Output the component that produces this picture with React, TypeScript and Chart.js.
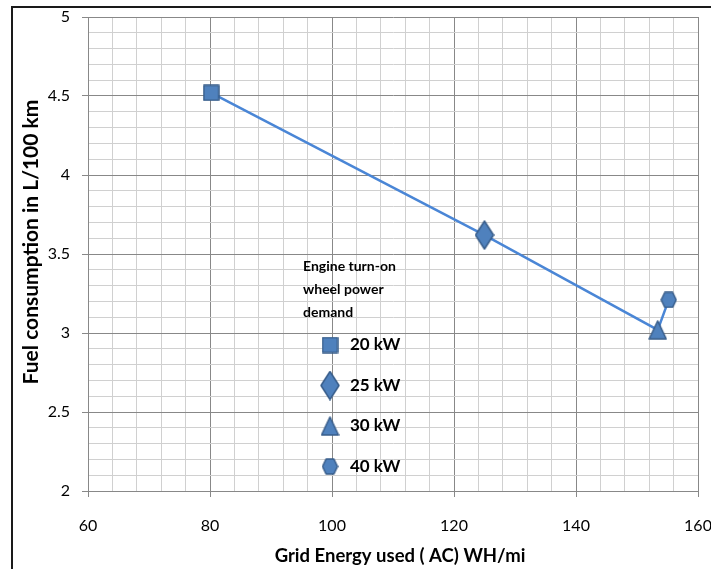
import React, { useEffect, useRef } from 'react';
import { Chart, registerables } from 'chart.js';

Chart.register(...registerables);

// ---- data ----
const energyUsed = [80.2, 125, 153.4, 155.2]; // Grid energy used (AC) Wh/mi
const fuelUse = [4.52, 3.62, 3.02, 3.21]; // L/100 km
const powerDemand = ['20 kW', '25 kW', '30 kW', '40 kW'];
const markerKinds = ['square', 'diamond', 'triangle', 'hexagon'];
const legendTitle = ['Engine turn-on', 'wheel power', 'demand'];
const xTitle = 'Grid Energy used ( AC) WH/mi';
const yTitle = 'Fuel consumption in L/100 km';
const xRange = [60, 160];
const xMajorStep = 20;
const xMinorStep = 4;
const yRange = [2, 5];
const yMajorStep = 0.5;
const yMinorStep = 0.1;

// ---- style ----
const W = 711;
const H = 569;
const FONT = 'Lato, "Open Sans", sans-serif';
const FILL = '#4F81BD';
const EDGE = '#385D8A';
const LINE = '#4A86D6';
const MAJOR_GRID = '#888888';
const MINOR_GRID = '#d0d0d0';

const isMajor = (v: number, step: number) => Math.abs(v / step - Math.round(v / step)) < 1e-6;

function makeMarker(kind: string): HTMLCanvasElement {
  const sizes: Record<string, [number, number]> = {
    square: [17, 17],
    diamond: [20, 30],
    triangle: [19, 20],
    hexagon: [17, 17],
  };
  const [w, h] = sizes[kind];
  const c = document.createElement('canvas');
  c.width = w;
  c.height = h;
  const g = c.getContext('2d')!;
  g.fillStyle = FILL;
  g.strokeStyle = EDGE;
  g.lineWidth = 1.5;
  g.lineJoin = 'round';
  g.beginPath();
  if (kind === 'square') {
    g.rect(1, 1, w - 2, h - 2);
  } else if (kind === 'diamond') {
    g.moveTo(w / 2, 1);
    g.lineTo(w - 1, h / 2);
    g.lineTo(w / 2, h - 1);
    g.lineTo(1, h / 2);
    g.closePath();
  } else if (kind === 'triangle') {
    g.moveTo(w / 2, 1);
    g.lineTo(w - 1, h - 1);
    g.lineTo(1, h - 1);
    g.closePath();
  } else {
    g.moveTo(1, h / 2);
    g.lineTo(w * 0.27, 1);
    g.lineTo(w * 0.73, 1);
    g.lineTo(w - 1, h / 2);
    g.lineTo(w * 0.73, h - 1);
    g.lineTo(w * 0.27, h - 1);
    g.closePath();
  }
  g.fill();
  g.stroke();
  return c;
}

export default function App() {
  const ref = useRef<HTMLCanvasElement>(null);

  useEffect(() => {
    if (!ref.current) return;
    const markers = markerKinds.map(makeMarker);

    const overlayPlugin = {
      id: 'overlayText',
      afterDraw(chart: any) {
        const { ctx, chartArea } = chart;
        const left = chartArea.left;
        const top = chartArea.top;
        const midX = (chartArea.left + chartArea.right) / 2;
        const midY = (chartArea.top + chartArea.bottom) / 2;
        ctx.save();
        ctx.fillStyle = '#000000';

        // axis titles
        ctx.textAlign = 'center';
        ctx.textBaseline = 'middle';
        ctx.font = `bold 18.5px ${FONT}`;
        ctx.fillText(xTitle, midX + 7, 556);
        ctx.save();
        ctx.translate(31, midY - 12);
        ctx.rotate(-Math.PI / 2);
        ctx.font = `bold 21px ${FONT}`;
        ctx.fillText(yTitle, 0, 0);
        ctx.restore();

        // in-plot legend
        ctx.textAlign = 'left';
        ctx.textBaseline = 'middle';
        ctx.font = `bold 14px ${FONT}`;
        legendTitle.forEach((t, i) => {
          ctx.fillText(t, left + 215, top + 249 + i * 23);
        });
        ctx.font = `bold 17px ${FONT}`;
        powerDemand.forEach((label, i) => {
          const cy = top + 328 + i * 40.5;
          const m = markers[i];
          ctx.drawImage(m, left + 242 - m.width / 2, cy - m.height / 2);
          ctx.fillText(label, left + 262, cy);
        });
        ctx.restore();
      },
    };

    const chart = new Chart(ref.current, {
      type: 'scatter',
      data: {
        datasets: [
          {
            label: 'Fuel consumption',
            data: energyUsed.map((x, i) => ({ x, y: fuelUse[i] })),
            showLine: true,
            borderColor: LINE,
            borderWidth: 2.5,
            backgroundColor: FILL,
            pointStyle: markers as any,
            pointRadius: 9,
          },
        ],
      },
      options: {
        animation: false,
        responsive: false,
        layout: { padding: { left: 0, right: 13, top: 17, bottom: 0 } },
        plugins: {
          legend: { display: false },
          tooltip: { enabled: false },
        },
        scales: {
          x: {
            type: 'linear',
            min: xRange[0],
            max: xRange[1],
            afterFit: (s: any) => {
              s.height = 78;
              s.paddingLeft = 0;
              s.paddingRight = 0;
            },
            ticks: {
              stepSize: xMinorStep,
              autoSkip: false,
              maxRotation: 0,
              padding: 19,
              color: '#000000',
              font: { family: FONT, size: 16 },
              callback: (v: any) => (isMajor(Number(v), xMajorStep) ? String(v) : ''),
            },
            grid: {
              color: (c: any) => (isMajor(c.tick.value, xMajorStep) ? MAJOR_GRID : MINOR_GRID),
              tickColor: (c: any) => (isMajor(c.tick.value, xMajorStep) ? MAJOR_GRID : 'rgba(0,0,0,0)'),
              tickLength: 6,
            },
            border: { color: MAJOR_GRID, width: 1 },
            title: { display: false },
          },
          y: {
            type: 'linear',
            min: yRange[0],
            max: yRange[1],
            afterFit: (s: any) => {
              s.width = 88;
              s.paddingTop = 0;
              s.paddingBottom = 0;
            },
            ticks: {
              stepSize: yMinorStep,
              autoSkip: false,
              padding: 12,
              color: '#000000',
              font: { family: FONT, size: 16 },
              callback: (v: any) => (isMajor(Number(v), yMajorStep) ? String(Math.round(Number(v) * 10) / 10) : ''),
            },
            grid: {
              color: (c: any) => (isMajor(c.tick.value, yMajorStep) ? MAJOR_GRID : MINOR_GRID),
              tickColor: (c: any) => (isMajor(c.tick.value, yMajorStep) ? MAJOR_GRID : 'rgba(0,0,0,0)'),
              tickLength: 6,
            },
            border: { color: MAJOR_GRID, width: 1 },
            title: { display: false },
          },
        },
      },
      plugins: [overlayPlugin],
    });

    return () => chart.destroy();
  }, []);

  return (
    <div style={{ position: 'absolute', left: 0, top: 0, width: W, height: H, background: '#ffffff', overflow: 'hidden' }}>
      <div
        style={{
          position: 'absolute',
          left: 11,
          top: 6,
          width: W,
          height: H,
          borderTop: '2px solid #1a1a1a',
          borderLeft: '2px solid #1a1a1a',
        }}
      />
      <canvas ref={ref} width={W} height={H} style={{ position: 'absolute', left: 0, top: 0, width: W, height: H }} />
    </div>
  );
}
